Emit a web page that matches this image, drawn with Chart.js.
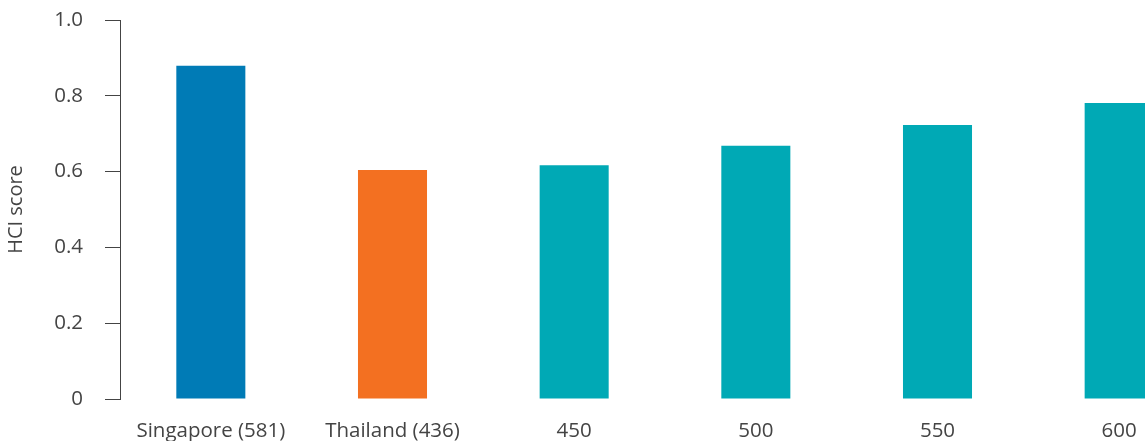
<!DOCTYPE html>
<html>
<head>
<meta charset="utf-8">
<script src="https://cdn.jsdelivr.net/npm/chart.js@4.4.0/dist/chart.umd.min.js"></script>
<style>
  html, body { margin: 0; padding: 0; background: #fff; overflow: hidden; }
  #wrap { width: 1215px; height: 441px; }
</style>
</head>
<body>
<div id="wrap"><canvas id="hci-chart" width="1215" height="441"></canvas></div>
<script>
// HCI score by test score benchmark

const categories = ['Singapore (581)', 'Thailand (436)', '450', '500', '550', '600'];
const hciScores = [0.879, 0.604, 0.617, 0.668, 0.723, 0.781];
const barColors = ['#007bb6', '#f37021', '#00a9b5', '#00a9b5', '#00a9b5', '#00a9b5'];
const yTicks = [0, 0.2, 0.4, 0.6, 0.8, 1.0];

const textColor = '#444444';
const fontFamily = '"Open Sans", Lato, sans-serif';

new Chart(document.getElementById('hci-chart'), {
  type: 'bar',
  data: {
    labels: categories,
    datasets: [{
      label: 'HCI score',
      data: hciScores,
      backgroundColor: barColors,
      borderWidth: 0,
      categoryPercentage: 1,
      barPercentage: 0.38
    }]
  },
  options: {
    responsive: false,
    animation: false,
    layout: { padding: { top: 20, right: 5, left: 0, bottom: 0 } },
    scales: {
      x: {
        grid: { display: false, drawTicks: false },
        border: { display: false },
        ticks: {
          color: textColor,
          padding: 20,
          maxRotation: 0,
          autoSkip: false,
          font: { family: fontFamily, size: 20.5 }
        },
        afterFit: function(scale) { scale.height = 42; }
      },
      y: {
        min: 0,
        max: 1,
        afterBuildTicks: function(scale) {
          scale.ticks = yTicks.map(v => ({ value: v }));
        },
        grid: {
          drawOnChartArea: false,
          drawTicks: true,
          tickLength: 15,
          color: textColor,
          lineWidth: 1
        },
        border: { display: true, color: textColor, width: 1 },
        ticks: {
          color: textColor,
          padding: 22,
          font: { family: fontFamily, size: 20.5 },
          callback: function(value) {
            return value === 0 ? '0' : value.toFixed(1);
          }
        },
        title: {
          display: true,
          text: 'HCI score',
          color: textColor,
          padding: { top: 4, bottom: 0 },
          font: { family: fontFamily, size: 20 }
        },
        afterFit: function(scale) {
          scale.width = 120;
          scale.paddingTop = 10;
          scale.paddingBottom = 0;
        }
      }
    },
    plugins: {
      legend: { display: false },
      tooltip: { enabled: false }
    }
  }
});
</script>
</body>
</html>
